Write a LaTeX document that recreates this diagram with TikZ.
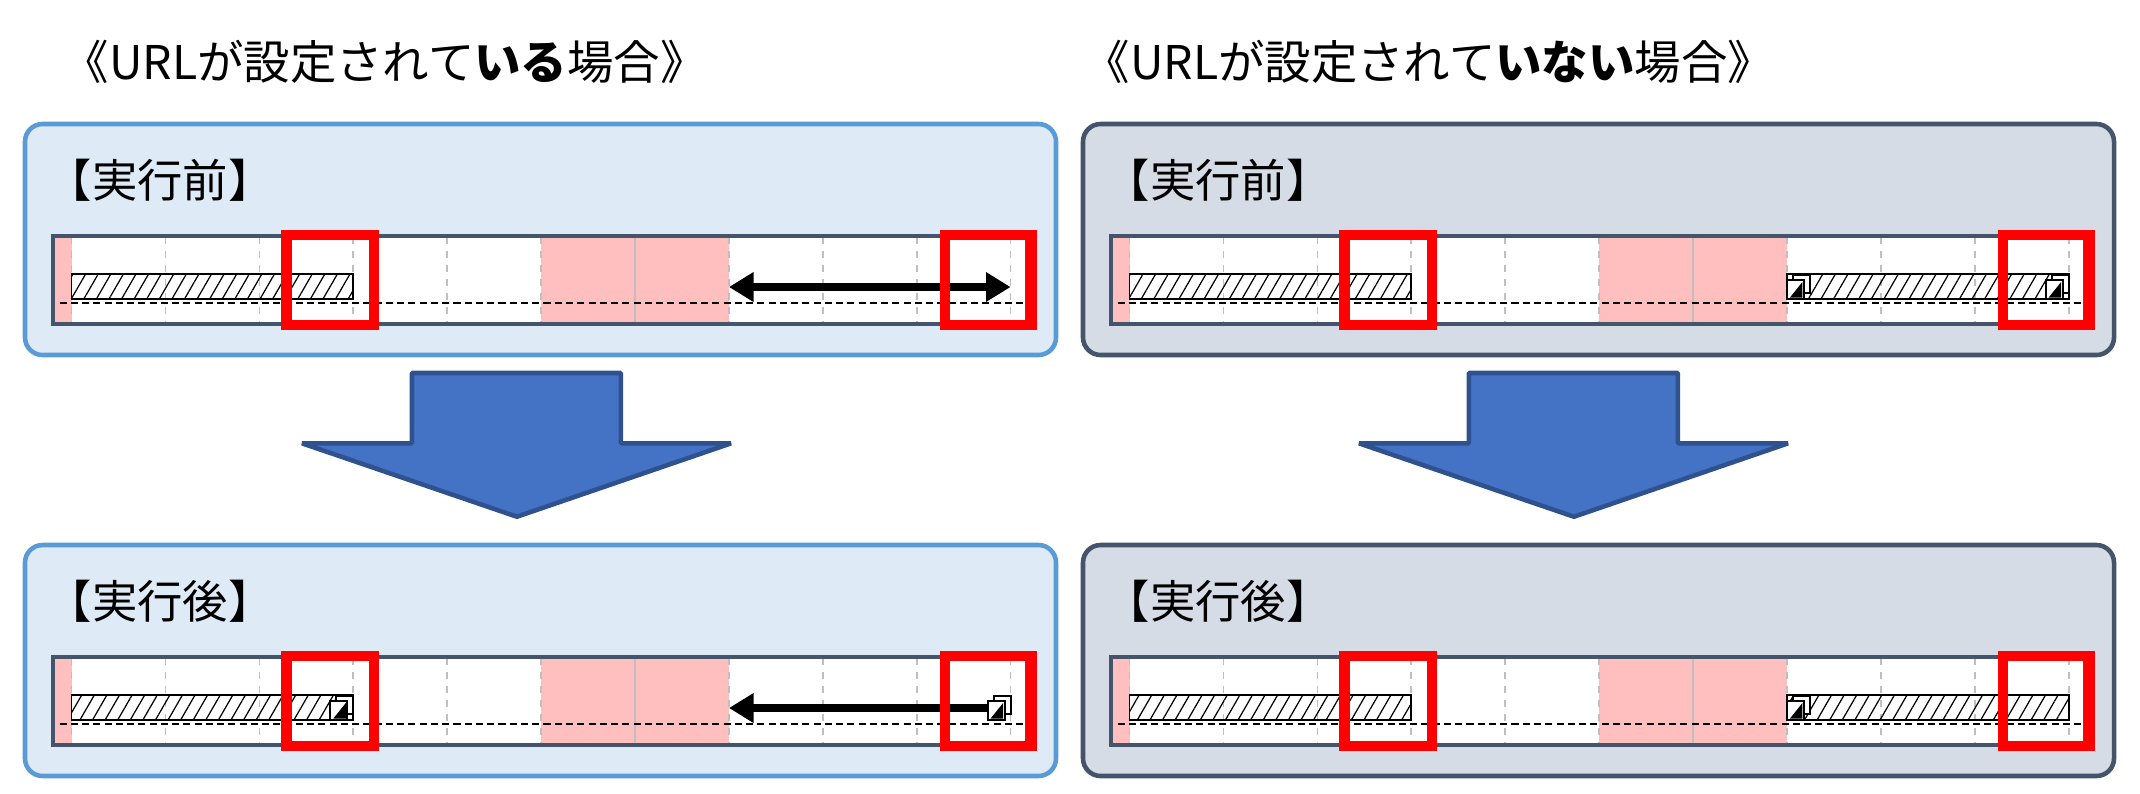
\documentclass[tikz,border=0pt]{standalone}
\usepackage{fontspec}
\newfontfamily\jp{Noto Sans CJK JP}
\usetikzlibrary{arrows.meta,patterns.meta}
\definecolor{blueFill}{HTML}{DEEBF7}
\definecolor{blueBorder}{HTML}{5B9BD5}
\definecolor{slateFill}{HTML}{D6DCE5}
\definecolor{slate}{HTML}{44546A}
\definecolor{pinkArea}{HTML}{FFBFBF}
\definecolor{gridgrey}{HTML}{BFBFBF}
\definecolor{arrowFill}{HTML}{4472C4}
\definecolor{arrowBorder}{HTML}{2F528F}
\tikzset{
  panelA/.style={draw=blueBorder, fill=blueFill, line width=1.3pt, rounded corners=5pt},
  panelB/.style={draw=slate, fill=slateFill, line width=1.3pt, rounded corners=5pt},
  barframe/.style={draw=slate, line width=1pt},
  gridline/.style={draw=gridgrey, line width=0.5pt, dash pattern=on 2pt off 2pt},
  midline/.style={draw=gridgrey, line width=0.5pt},
  refline/.style={draw=black, line width=0.45pt, dash pattern=on 2pt off 1.2pt},
  hatchbar/.style={draw=black, line width=0.5pt, pattern={Lines[angle=60,distance=3.1pt,line width=0.35pt]}},
  redbox/.style={draw=red, line width=3pt},
  bigarrow/.style={fill=arrowFill, draw=arrowBorder, line width=1.3pt, line join=bevel},
  jumparrow/.style={line width=2.1pt, -{Triangle[length=7pt,width=8pt]}},
  titletext/.style={font=\jp\fontsize{13.2}{15}\selectfont, anchor=west, inner sep=0pt},
  labeltext/.style={font=\jp\fontsize{12.9}{15}\selectfont, anchor=west, inner sep=0pt},
  iconsq/.style={fill=white, draw=black, line width=0.6pt},
}
% link icon: #1 = left x, #2 = top y
\newcommand\linkicon[2]{%
  \begin{scope}[shift={(#1,#2)}]
    \path[iconsq] (6,1) rectangle (23,19);
    \path[iconsq] (0,6) rectangle (17,25);
    \fill[black] (15.5,8) -- (15.5,23.5) -- (3,23.5) -- cycle;
  \end{scope}}
% panel frame with time bar: #1 style, #2 label, #3 suffix
\newcommand\panelframe[3]{%
  \path[#1] (25,124) rectangle (1056,355);
  \node[labeltext] (lbl#3) at (46,180) {【#2】};
  \fill[white] (53,236) rectangle (1026.6,324);
  \fill[pinkArea] (53,236) rectangle (71.6,324);
  \fill[pinkArea] (541.1,236) rectangle (728.9,324);
  \foreach \gx in {71.6,165.5,259.4,353.3,447.2,541.1,728.9,822.8,916.7,1010.6}
    \draw[gridline] (\gx,237) -- (\gx,323);
  \draw[midline] (635.0,237) -- (635.0,323);
  \path[barframe] (53,236) rectangle (1026.6,324);
  \draw[refline] (59.6,303) -- (1026,303);
  \coordinate (g3#3) at (353.3,287);
  \coordinate (g7#3) at (728.9,287);
  \coordinate (g10#3) at (1010.6,287);
}
\begin{document}
\begin{tikzpicture}[x=0.01cm,y=-0.01cm]
\useasboundingbox (0,0) rectangle (2140,793);
\fill[white] (0,0) rectangle (2140,793);

% titles
\node[titletext] (titleL) at (62,62) {《URLが設定されて{\bfseries いる}場合》};
\node[titletext] (titleR) at (1083,62) {《URLが設定されて{\bfseries いない}場合》};

% top-left: URL set, before
\begin{scope}
  \panelframe{panelA}{実行前}{TL}
  \path[hatchbar] (71.6,274) rectangle (353.3,299);
  \draw[jumparrow, {Triangle[length=7pt,width=8pt]}-{Triangle[length=7pt,width=8pt]}] (g7TL) -- (g10TL);
  \draw[redbox] (286.3,235) rectangle (373.8,325);
  \draw[redbox] (945.1,235) rectangle (1031.6,325);
\end{scope}

% top-right: URL not set, before
\begin{scope}[shift={(1058,0)}]
  \panelframe{panelB}{実行前}{TR}
  \path[hatchbar] (71.6,274) rectangle (353.3,299);
  \path[hatchbar] (728.9,274) rectangle (1010.6,299);
  \linkicon{728.9}{274}
  \linkicon{987.6}{274}
  \draw[redbox] (286.3,235) rectangle (373.8,325);
  \draw[redbox] (945.1,235) rectangle (1031.6,325);
\end{scope}

% bottom-left: URL set, after
\begin{scope}[shift={(0,421)}]
  \panelframe{panelA}{実行後}{BL}
  \path[hatchbar] (71.6,274) rectangle (353.3,299);
  \linkicon{330.3}{274}
  \coordinate (iconBL) at (988.6,287);
  \draw[jumparrow] (iconBL) -- (g7BL);
  \linkicon{987.6}{274}
  \draw[redbox] (286.3,235) rectangle (373.8,325);
  \draw[redbox] (945.1,235) rectangle (1031.6,325);
\end{scope}

% bottom-right: URL not set, after
\begin{scope}[shift={(1058,421)}]
  \panelframe{panelB}{実行後}{BR}
  \path[hatchbar] (71.6,274) rectangle (353.3,299);
  \path[hatchbar] (728.9,274) rectangle (1010.6,299);
  \linkicon{728.9}{274}
  \draw[redbox] (286.3,235) rectangle (373.8,325);
  \draw[redbox] (945.1,235) rectangle (1031.6,325);
\end{scope}

% big down arrows
\path[bigarrow] (411.8,373) -- (620.9,373) -- (620.9,443.3) -- (731,443.3)
  -- (516.9,516.7) -- (302,443.3) -- (411.8,443.3) -- cycle;
\begin{scope}[shift={(1057,0)}]
\path[bigarrow] (411.8,373) -- (620.9,373) -- (620.9,443.3) -- (731,443.3)
  -- (516.9,516.7) -- (302,443.3) -- (411.8,443.3) -- cycle;
\end{scope}
\end{tikzpicture}
\end{document}
